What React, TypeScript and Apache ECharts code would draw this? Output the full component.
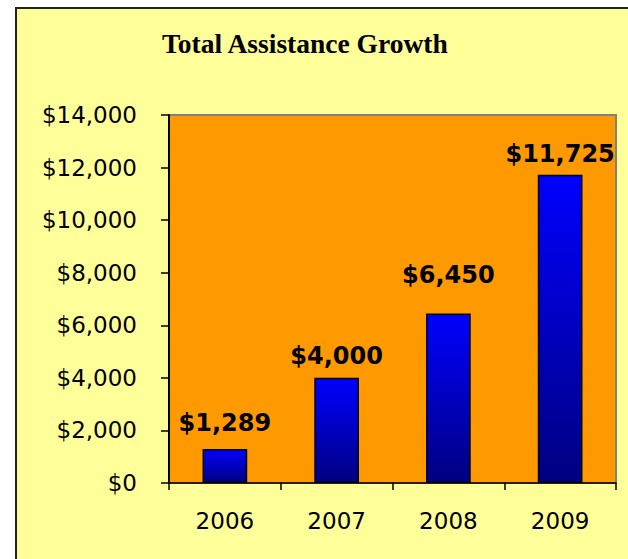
import React, { useEffect, useRef } from "react";
import * as echarts from "echarts";

const categories = ["2006", "2007", "2008", "2009"];
const values = [1289, 4000, 6450, 11725];
const titleText = "Total Assistance Growth";
// gap between each value label and its bar (layout only)
const labelGaps = [14, 10, 26, 9];

const fmt = (v: number) => "$" + Number(v).toLocaleString("en-US");

export default function App() {
  const ref = useRef<HTMLDivElement>(null);
  useEffect(() => {
    if (!ref.current) return;
    const chart = echarts.init(ref.current, undefined, { renderer: "svg" });
    chart.setOption({
      animation: false,
      backgroundColor: "transparent",
      title: {
        text: titleText,
        left: 162,
        top: 29,
        padding: 0,
        textStyle: {
          fontFamily: "Liberation Serif",
          fontWeight: "bold",
          fontSize: 27.5,
          color: "#000",
        },
      },
      grid: {
        left: 169,
        right: 12,
        top: 115,
        bottom: 76,
        show: true,
        backgroundColor: "#FF9900",
        borderColor: "#808080",
        borderWidth: 2,
      },
      xAxis: {
        type: "category",
        data: categories,
        axisLine: { show: true, lineStyle: { color: "#000", width: 1.5 } },
        axisTick: { show: true, length: 7, lineStyle: { color: "#000", width: 1.5 } },
        axisLabel: {
          margin: 26,
          fontFamily: "DejaVu Sans",
          fontSize: 23,
          color: "#000",
        },
        splitLine: { show: false },
      },
      yAxis: {
        type: "value",
        min: 0,
        max: 14000,
        interval: 2000,
        axisLine: { show: true, lineStyle: { color: "#000", width: 2 } },
        axisTick: { show: true, length: 8, lineStyle: { color: "#000", width: 1.5 } },
        axisLabel: {
          margin: 32,
          fontFamily: "DejaVu Sans",
          fontSize: 23,
          color: "#000",
          formatter: (v: number) => fmt(v),
        },
        splitLine: { show: false },
      },
      series: [
        {
          type: "bar",
          data: values.map((v, i) => ({
            value: v,
            label: { distance: labelGaps[i] },
          })),
          barWidth: "40%",
          itemStyle: {
            color: new echarts.graphic.LinearGradient(0, 0, 0, 1, [
              { offset: 0, color: "#0000FF" },
              { offset: 1, color: "#000080" },
            ]),
            borderColor: "#000",
            borderWidth: 1.5,
          },
          label: {
            show: true,
            position: "top",
            fontFamily: "DejaVu Sans",
            fontWeight: "bold",
            fontSize: 24,
            color: "#000",
            formatter: (p: any) => fmt(p.value),
          },
        },
      ],
    });
    return () => chart.dispose();
  }, []);

  return (
    <div
      style={{
        position: "absolute",
        left: 0,
        top: 0,
        width: 628,
        height: 559,
        background: "#fff",
        overflow: "hidden",
      }}
    >
      <div
        style={{
          position: "absolute",
          left: 15,
          top: 7,
          width: 700,
          height: 700,
          background: "#FFFF99",
          borderLeft: "2px solid #222",
          borderTop: "2px solid #222",
        }}
      />
      <div
        ref={ref}
        style={{ position: "absolute", left: 0, top: 0, width: 628, height: 559 }}
      />
    </div>
  );
}
